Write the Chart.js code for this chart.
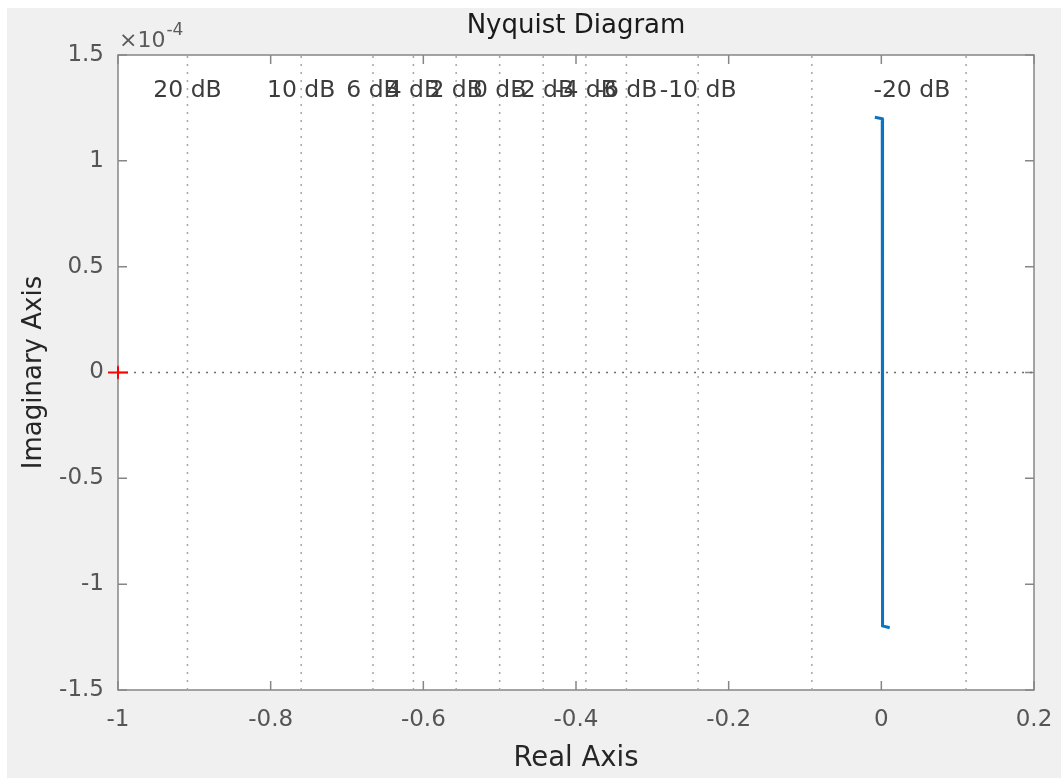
<!DOCTYPE html>
<html>
<head>
<meta charset="utf-8">
<title>Nyquist Diagram</title>
<script src="https://cdn.jsdelivr.net/npm/chart.js@4.4.1/dist/chart.umd.min.js"></script>
<style>
  html, body { margin: 0; padding: 0; background: #ffffff; }
  #wrap { position: relative; width: 1061px; height: 778px; }
  canvas { display: block; }
</style>
</head>
<body>
<div id="wrap"><canvas id="nyq" width="1061" height="778"></canvas></div>
<script>
// Frequency response on the complex plane (imaginary part in absolute units)
const nyqRe = [-0.0085, 0.0012, 0.0016, 0.0110];
const nyqIm = [1.206e-4, 1.199e-4, -1.197e-4, -1.206e-4];

// Critical point -1 + 0j
const critRe = [-1];
const critIm = [0];

// Constant-gain (M-circle) grid: where each circle crosses the real axis
const gridLineRe = [-0.909, -0.760, -0.666, -0.613, -0.557, -0.500, -0.443, -0.387, -0.334, -0.240, -0.091, 0.111];
const gridLabels = ['20 dB', '10 dB', '6 dB', '4 dB', '2 dB', '0 dB', '-2 dB', '-4 dB', '-6 dB', '-10 dB', '-20 dB'];
const gridLabelRe = [-0.909, -0.760, -0.666, -0.613, -0.557, -0.500, -0.443, -0.387, -0.334, -0.240, 0.040];
const gridLabelIm = 1.33e-4;

// Axis ticks
const xTicks = [-1, -0.8, -0.6, -0.4, -0.2, 0, 0.2];
const xTickLabels = ['-1', '-0.8', '-0.6', '-0.4', '-0.2', '0', '0.2'];
const yTicks = [-1.5e-4, -1e-4, -0.5e-4, 0, 0.5e-4, 1e-4, 1.5e-4];
const yTickLabels = ['-1.5', '-1', '-0.5', '0', '0.5', '1', '1.5'];
const yExponent = '-4';

const FONT = "'DejaVu Sans', 'Liberation Sans', sans-serif";
const yMin = yTicks[0], yMax = yTicks[yTicks.length - 1];
const xMin = xTicks[0], xMax = xTicks[xTicks.length - 1];

// Red "+" marker for the critical point
const plusMark = (() => {
  const c = document.createElement('canvas');
  c.width = 22; c.height = 16;
  const g = c.getContext('2d');
  g.strokeStyle = '#ff0000';
  g.lineWidth = 2;
  g.beginPath();
  g.moveTo(1, 8); g.lineTo(21, 8);
  g.moveTo(11, 1.5); g.lineTo(11, 14.5);
  g.stroke();
  return c;
})();

const datasets = [
  {
    label: 'response',
    data: nyqRe.map((x, i) => ({ x, y: nyqIm[i] })),
    showLine: true,
    borderColor: '#0b74c2',
    borderWidth: 3,
    pointRadius: 0,
    tension: 0,
    fill: false
  },
  {
    label: 'critical',
    data: critRe.map((x, i) => ({ x, y: critIm[i] })),
    showLine: false,
    pointStyle: plusMark,
    pointRadius: 10,
    clip: false
  },
  {
    label: 'real axis',
    data: [{ x: xMin, y: 0 }, { x: xMax, y: 0 }],
    showLine: true,
    borderColor: '#6e6e6e',
    borderWidth: 1.5,
    borderDash: [2, 6],
    pointRadius: 0
  }
];
gridLineRe.forEach((re) => {
  datasets.push({
    label: 'grid',
    data: [{ x: re, y: yMin }, { x: re, y: yMax }],
    showLine: true,
    borderColor: '#a6a6a6',
    borderWidth: 1.5,
    borderDash: [2, 6],
    pointRadius: 0
  });
});

const frame = {
  id: 'frame',
  beforeDraw(chart) {
    const { ctx, chartArea: a, width, height } = chart;
    ctx.save();
    ctx.fillStyle = '#ffffff';
    ctx.fillRect(0, 0, width, height);
    ctx.fillStyle = '#f0f0f0';
    ctx.fillRect(7, 8, width - 7, height - 8);
    ctx.fillStyle = '#ffffff';
    ctx.fillRect(a.left, a.top, a.right - a.left, a.bottom - a.top);
    ctx.restore();
  },
  beforeDatasetsDraw(chart) {
    const { ctx, chartArea: a, scales } = chart;
    const xs = scales.x, ys = scales.y;
    ctx.save();
    // axes box with inward ticks
    ctx.strokeStyle = '#868686';
    ctx.lineWidth = 1.5;
    ctx.strokeRect(a.left, a.top, a.right - a.left, a.bottom - a.top);
    const tl = 9;
    ctx.beginPath();
    xs.ticks.forEach((t) => {
      const px = xs.getPixelForValue(t.value);
      ctx.moveTo(px, a.bottom); ctx.lineTo(px, a.bottom - tl);
      ctx.moveTo(px, a.top); ctx.lineTo(px, a.top + tl);
    });
    ys.ticks.forEach((t) => {
      const py = ys.getPixelForValue(t.value);
      ctx.moveTo(a.left, py); ctx.lineTo(a.left + tl, py);
      ctx.moveTo(a.right, py); ctx.lineTo(a.right - tl, py);
    });
    ctx.stroke();
    // gain labels of the grid circles
    ctx.font = '23.5px ' + FONT;
    ctx.fillStyle = '#3c3c3c';
    ctx.textAlign = 'center';
    ctx.textBaseline = 'middle';
    gridLabels.forEach((t, i) => {
      ctx.fillText(t, xs.getPixelForValue(gridLabelRe[i]), ys.getPixelForValue(gridLabelIm));
    });
    ctx.restore();
  },
  afterDraw(chart) {
    const { ctx, chartArea: a } = chart;
    ctx.save();
    ctx.fillStyle = '#1a1a1a';
    ctx.font = '26px ' + FONT;
    ctx.textAlign = 'center';
    ctx.textBaseline = 'alphabetic';
    ctx.fillText('Nyquist Diagram', (a.left + a.right) / 2, 33);
    // axis multiplier
    ctx.fillStyle = '#5a5a5a';
    ctx.textAlign = 'left';
    ctx.font = '22px ' + FONT;
    const base = '\u00d710';
    ctx.fillText(base, a.left + 1, 47);
    const w = ctx.measureText(base).width;
    ctx.font = '17px ' + FONT;
    ctx.fillText(yExponent, a.left + 1 + w + 1, 35);
    ctx.restore();
  }
};

new Chart(document.getElementById('nyq'), {
  type: 'scatter',
  data: { datasets },
  options: {
    responsive: false,
    animation: false,
    layout: { padding: { top: 55, right: 27, bottom: 0, left: 0 } },
    plugins: {
      legend: { display: false },
      tooltip: { enabled: false },
      title: { display: false }
    },
    scales: {
      x: {
        type: 'linear',
        min: xMin,
        max: xMax,
        afterBuildTicks: (s) => { s.ticks = xTicks.map((v) => ({ value: v })); },
        afterFit: (s) => { s.height = 88; s.paddingLeft = 0; s.paddingRight = 0; },
        grid: { display: false, drawTicks: false },
        border: { display: false },
        ticks: {
          autoSkip: false,
          maxRotation: 0,
          padding: 16,
          color: '#555555',
          font: { family: FONT, size: 23 },
          callback: (v, i) => xTickLabels[i]
        },
        title: {
          display: true,
          text: 'Real Axis',
          color: '#262626',
          font: { family: FONT, size: 27.5 },
          padding: { top: 0, bottom: 3 }
        }
      },
      y: {
        type: 'linear',
        min: yMin,
        max: yMax,
        afterBuildTicks: (s) => { s.ticks = yTicks.map((v) => ({ value: v })); },
        afterFit: (s) => { s.width = 118; s.paddingTop = 0; s.paddingBottom = 0; },
        grid: { display: false, drawTicks: false },
        border: { display: false },
        ticks: {
          autoSkip: false,
          padding: 14,
          color: '#555555',
          font: { family: FONT, size: 23 },
          callback: (v, i) => yTickLabels[i]
        },
        title: {
          display: true,
          text: 'Imaginary Axis',
          color: '#262626',
          font: { family: FONT, size: 26 },
          padding: { top: 19, bottom: 0 }
        }
      }
    }
  },
  plugins: [frame]
});
</script>
</body>
</html>
